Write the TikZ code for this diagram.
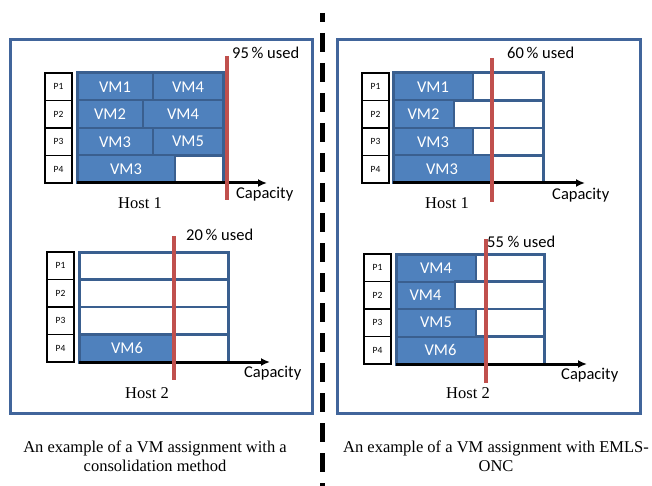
\documentclass[tikz,border=0pt]{standalone}
\usepackage{fontspec}
\setmainfont{Liberation Serif}
\setsansfont{Carlito}
\usetikzlibrary{arrows.meta}

\definecolor{framebl}{HTML}{41659B}
\definecolor{vmblue}{HTML}{4F81BD}
\definecolor{vmedge}{HTML}{3A5F8F}
\definecolor{usedred}{HTML}{C0504D}

\tikzset{
  frame/.style={draw=framebl, line width=3pt},
  pbox/.style={draw=black, line width=1.6pt, fill=white, inner sep=0pt, outer sep=0pt,
    minimum width=27pt, minimum height=27.5pt, font=\sffamily\fontsize{9.5}{10}\selectfont},
  vm/.style={fill=vmblue, draw=vmedge, line width=2pt, text=white, anchor=west,
    inner sep=0pt, outer sep=0pt, minimum height=27.5pt,
    font=\sffamily\fontsize{16.5}{18}\selectfont},
  cell/.style={fill=white, draw=vmedge, line width=2.5pt, anchor=west,
    inner sep=0pt, outer sep=0pt, minimum height=27.5pt},
  bar/.style={draw=vmedge, line width=3pt},
  axis/.style={line width=3pt, -{Latex[length=9pt,width=8pt]}},
  used/.style={draw=usedred, line width=3.2pt},
  label/.style={anchor=west, inner sep=0pt, font=\sffamily\fontsize{16.5}{18}\selectfont},
  host/.style={inner sep=0pt, font=\fontsize{16.5}{18}\selectfont},
  caption/.style={align=center, inner sep=0pt, font=\fontsize{16.5}{19}\selectfont}
}

\begin{document}
\begin{tikzpicture}[x=1pt, y=-1pt]
  \useasboundingbox (0,0) rectangle (652,486);

  % frames and the dashed divider
  \draw[frame] (10,40) rectangle (312,413);
  \draw[frame] (337,40) rectangle (640,413);
  \coordinate (divtop) at (322,13);
  \coordinate (divbot) at (322,486);
  \draw[line width=5pt, dash pattern=on 19pt off 11pt, dash phase=10pt] (divtop) -- (divbot);

  % left, host 1
  \foreach \i in {1,...,4}
    \node[pbox] (L1p\i) at (58.5,{73+(\i-0.5)*27.5}) {P\i};
  \foreach \i/\la/\xa/\sb/\lb in {1/VM1/153/vm/VM4, 2/VM2/143/vm/VM4,
                                  3/VM3/153/vm/VM5, 4/VM3/175/cell/{}}
  {
    \node[vm, minimum width={(\xa-77)*1pt}] (L1a\i) at (77,{73+(\i-0.5)*27.5}) {\la};
    \node[\sb, minimum width={(223-\xa)*1pt}] (L1b\i) at (L1a\i.east) {\lb};
  };
  \draw[bar] (L1a1.north west) rectangle (L1b4.south east);
  \coordinate (L1end) at (267,183);
  \draw[axis] (L1a4.south west) -- (L1end);
  \coordinate (L1top) at (227,56);
  \coordinate (L1bot) at (227,200);
  \draw[used] (L1top) -- (L1bot);
  \node[label] (L1use) at (232,53) {95\,\% used};
  \node[label] (L1cap) at (236,194) {Capacity};
  \node[host] (L1name) at (140,203) {Host 1};

  % left, host 2
  \foreach \i in {1,...,4}
    \node[pbox] (L2p\i) at (60.5,{252+(\i-0.5)*27.5}) {P\i};
  \foreach \i in {1,...,3}
    \node[cell, minimum width=149pt] (L2a\i) at (79,{252+(\i-0.5)*27.5}) {};
  \node[vm, minimum width=96pt] (L2a4) at (79,{252+3.5*27.5}) {VM6};
  \node[cell, minimum width=53pt] (L2b4) at (L2a4.east) {};
  \draw[bar] (L2a1.north west) rectangle (L2b4.south east);
  \coordinate (L2end) at (270,362);
  \draw[axis] (L2a4.south west) -- (L2end);
  \coordinate (L2top) at (174,236);
  \coordinate (L2bot) at (174,380);
  \draw[used] (L2top) -- (L2bot);
  \node[label] (L2use) at (186,235) {20\,\% used};
  \node[label] (L2cap) at (244,373) {Capacity};
  \node[host] (L2name) at (147,393) {Host 2};

  % right, host 1
  \foreach \i in {1,...,4}
    \node[pbox] (R1p\i) at (375.5,{73+(\i-0.5)*27.5}) {P\i};
  \foreach \i/\la/\xa in {1/VM1/473, 2/VM2/454, 3/VM3/473, 4/VM3/491}
  {
    \node[vm, minimum width={(\xa-393)*1pt}] (R1a\i) at (393,{73+(\i-0.5)*27.5}) {\la};
    \node[cell, minimum width={(543-\xa)*1pt}] (R1b\i) at (R1a\i.east) {};
  };
  \draw[bar] (R1a1.north west) rectangle (R1b4.south east);
  \coordinate (R1end) at (585,183);
  \draw[axis] (R1a4.south west) -- (R1end);
  \coordinate (R1top) at (492,58);
  \coordinate (R1bot) at (492,202);
  \draw[used] (R1top) -- (R1bot);
  \node[label] (R1use) at (507,53) {60\,\% used};
  \node[label] (R1cap) at (552,195) {Capacity};
  \node[host] (R1name) at (447,203) {Host 1};

  % right, host 2
  \foreach \i in {1,...,4}
    \node[pbox] (R2p\i) at (377.5,{254+(\i-0.5)*27.5}) {P\i};
  \foreach \i/\la/\xa in {1/VM4/476, 2/VM4/455, 3/VM5/476, 4/VM6/485}
  {
    \node[vm, minimum width={(\xa-396)*1pt}] (R2a\i) at (396,{254+(\i-0.5)*27.5}) {\la};
    \node[cell, minimum width={(544-\xa)*1pt}] (R2b\i) at (R2a\i.east) {};
  };
  \draw[bar] (R2a1.north west) rectangle (R2b4.south east);
  \coordinate (R2end) at (587,364);
  \draw[axis] (R2a4.south west) -- (R2end);
  \coordinate (R2top) at (486,239);
  \coordinate (R2bot) at (486,383);
  \draw[used] (R2top) -- (R2bot);
  \node[label] (R2use) at (487,242) {55 \% used};
  \node[label] (R2cap) at (561,375) {Capacity};
  \node[host] (R2name) at (468,393) {Host 2};

  % captions
  \node[caption] (capL) at (155,456) {An example of a VM assignment with a\\consolidation method};
  \node[caption] (capR) at (496,456) {An example of a VM assignment with EMLS-\\ONC};
\end{tikzpicture}
\end{document}
